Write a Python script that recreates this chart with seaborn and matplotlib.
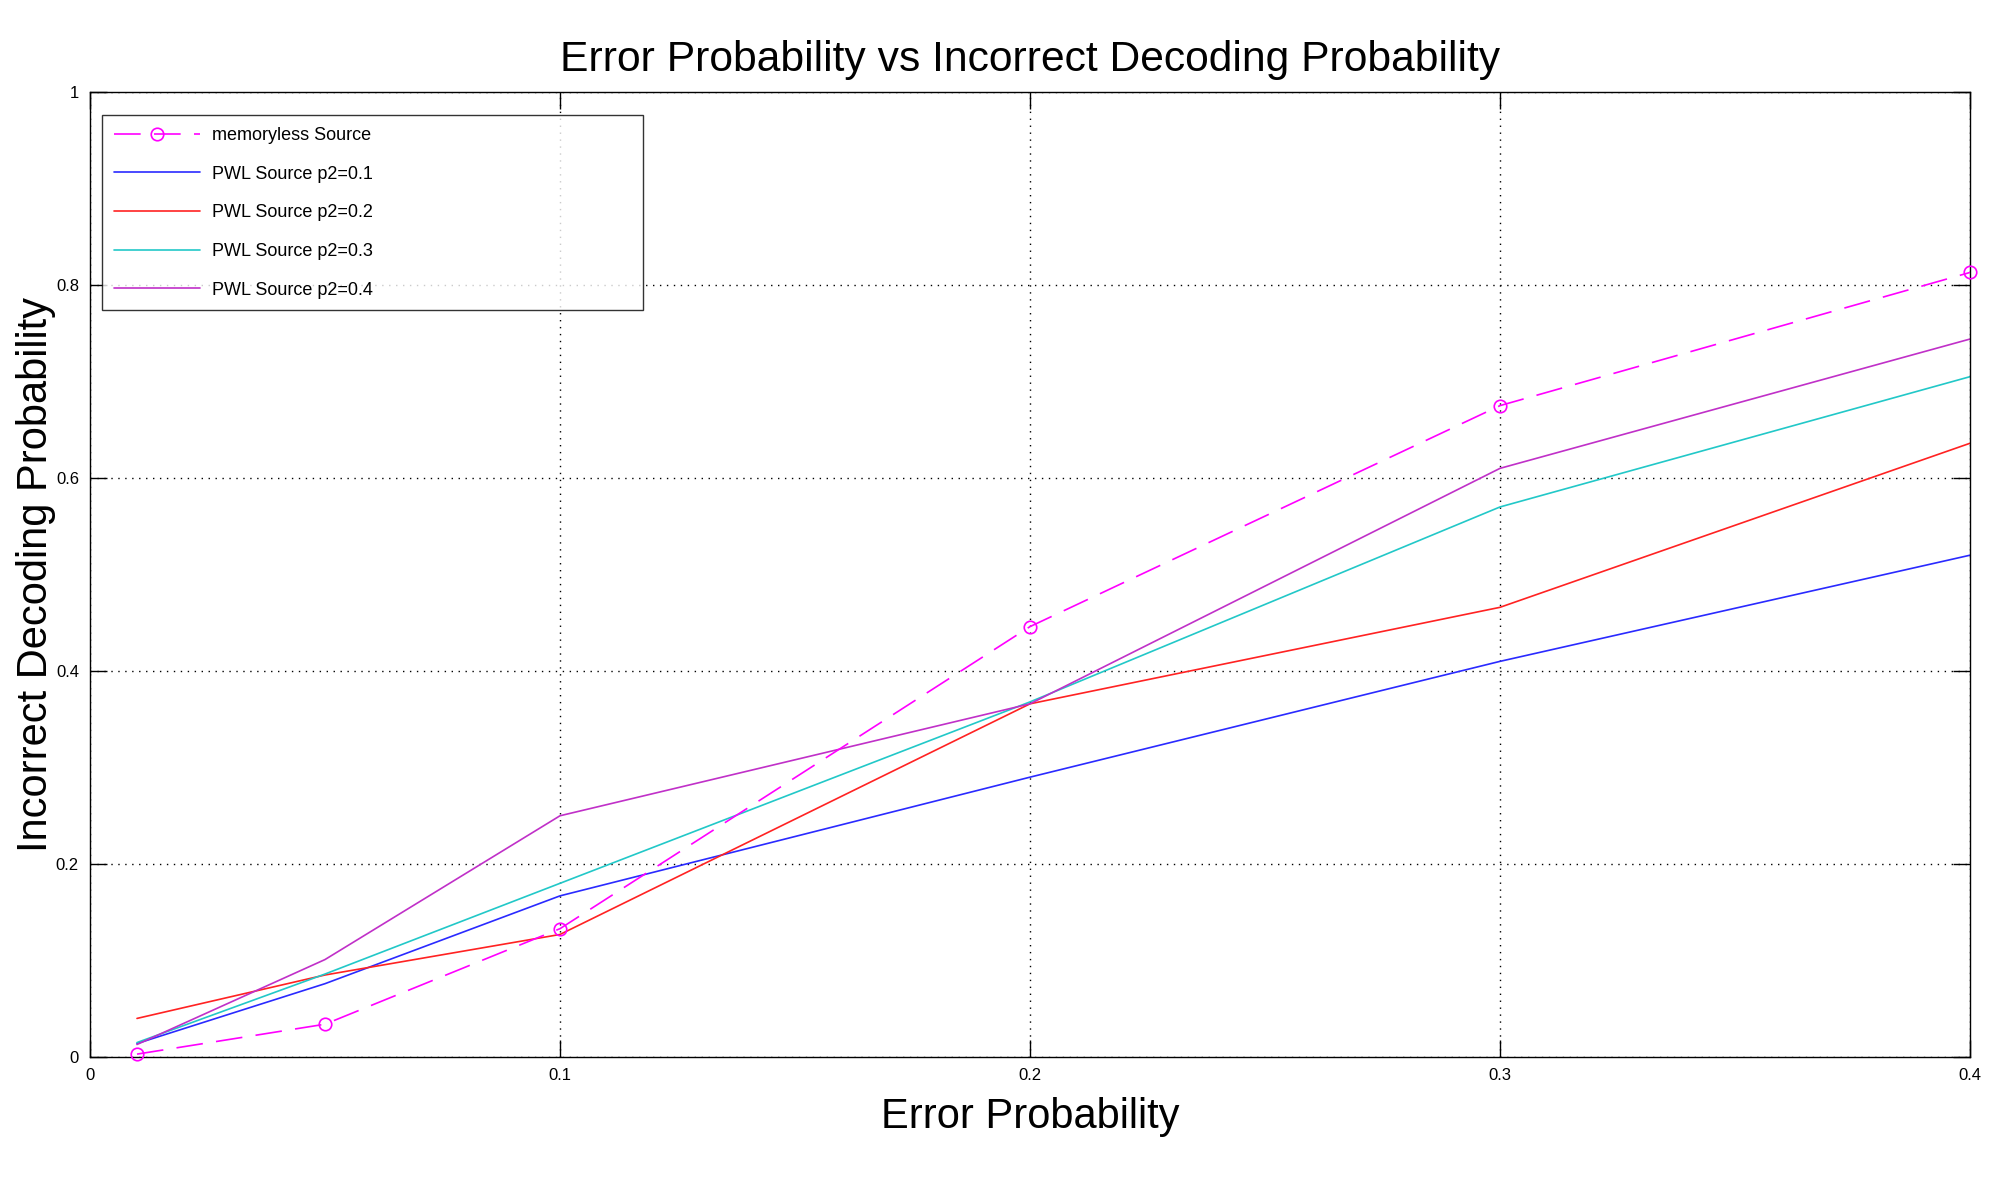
import pandas
import matplotlib
matplotlib.use("Agg")
import matplotlib.pyplot as plt
import seaborn as sns

# values
error_prob = [0.01, 0.05, 0.1, 0.2, 0.3, 0.4]
memoryless = [0.003, 0.034, 0.133, 0.446, 0.675, 0.813]
pwl_p2_01 = [0.014, 0.076, 0.167, 0.290, 0.410, 0.520]
pwl_p2_02 = [0.040, 0.085, 0.127, 0.366, 0.466, 0.636]
pwl_p2_03 = [0.015, 0.086, 0.180, 0.368, 0.570, 0.705]
pwl_p2_04 = [0.013, 0.101, 0.250, 0.366, 0.610, 0.744]

x_ticks = [0, 0.1, 0.2, 0.3, 0.4]
x_tick_labels = ["0", "0.1", "0.2", "0.3", "0.4"]
y_ticks = [0, 0.2, 0.4, 0.6, 0.8, 1.0]
y_tick_labels = ["0", "0.2", "0.4", "0.6", "0.8", "1"]

sns.set_style("white")
plt.rcParams['font.family'] = ['Liberation Sans', 'DejaVu Sans']
plt.rcParams['text.color'] = 'black'
plt.rcParams['axes.labelcolor'] = 'black'
plt.rcParams['xtick.color'] = 'black'
plt.rcParams['ytick.color'] = 'black'

fig = plt.figure(figsize=(20, 11.87), dpi=100)
ax = fig.add_axes([0.045, 0.1095, 0.94, 0.813])

df = pandas.DataFrame({"x": error_prob, "y": memoryless})
sns.lineplot(x="x", y="y", data=df, ax=ax, color="#ff00ff", linewidth=1.2,
             marker="o", markersize=9, markerfacecolor="none",
             markeredgecolor="#ff00ff", markeredgewidth=1.2,
             label="memoryless Source", clip_on=False, zorder=5)
ax.lines[-1].set_dashes((16, 8))

series = [
    (pwl_p2_01, "#2a2aff", "PWL Source p2=0.1"),
    (pwl_p2_02, "#ff2222", "PWL Source p2=0.2"),
    (pwl_p2_03, "#22c8c8", "PWL Source p2=0.3"),
    (pwl_p2_04, "#c030c8", "PWL Source p2=0.4"),
]
for vals, col, name in series:
    d = pandas.DataFrame({"x": error_prob, "y": vals})
    sns.lineplot(x="x", y="y", data=d, ax=ax, color=col, linewidth=1.2, label=name)

ax.set_xlim(0, 0.4)
ax.set_ylim(0, 1)
ax.set_xticks(x_ticks)
ax.set_xticklabels(x_tick_labels, fontsize=12)
ax.set_yticks(y_ticks)
ax.set_yticklabels(y_tick_labels, fontsize=12)
ax.tick_params(direction="in", length=12, width=1, top=True, right=True,
               bottom=True, left=True, pad=8)
ax.grid(True, color="black", linestyle=(0, (1, 4)), linewidth=1.0)

for s in ax.spines.values():
    s.set_visible(True)
    s.set_color("black")
    s.set_linewidth(1.0)

ax.set_title("Error Probability vs Incorrect Decoding Probability", fontsize=30.7, pad=15)
ax.set_xlabel("Error Probability", fontsize=30, labelpad=10)
ax.set_ylabel("Incorrect Decoding Probability", fontsize=30, labelpad=0)

leg = ax.legend(loc="upper left", bbox_to_anchor=(0.0064, 0.5, 0.288, 0.476),
                mode="expand", fontsize=13, frameon=True, fancybox=False,
                handlelength=4.8, handletextpad=0.65, labelspacing=1.2,
                borderpad=0.65, borderaxespad=0)
leg.get_frame().set_edgecolor("black")
leg.get_frame().set_linewidth(1.0)
leg.set_zorder(10)

fig.savefig("out.png", dpi=100)
